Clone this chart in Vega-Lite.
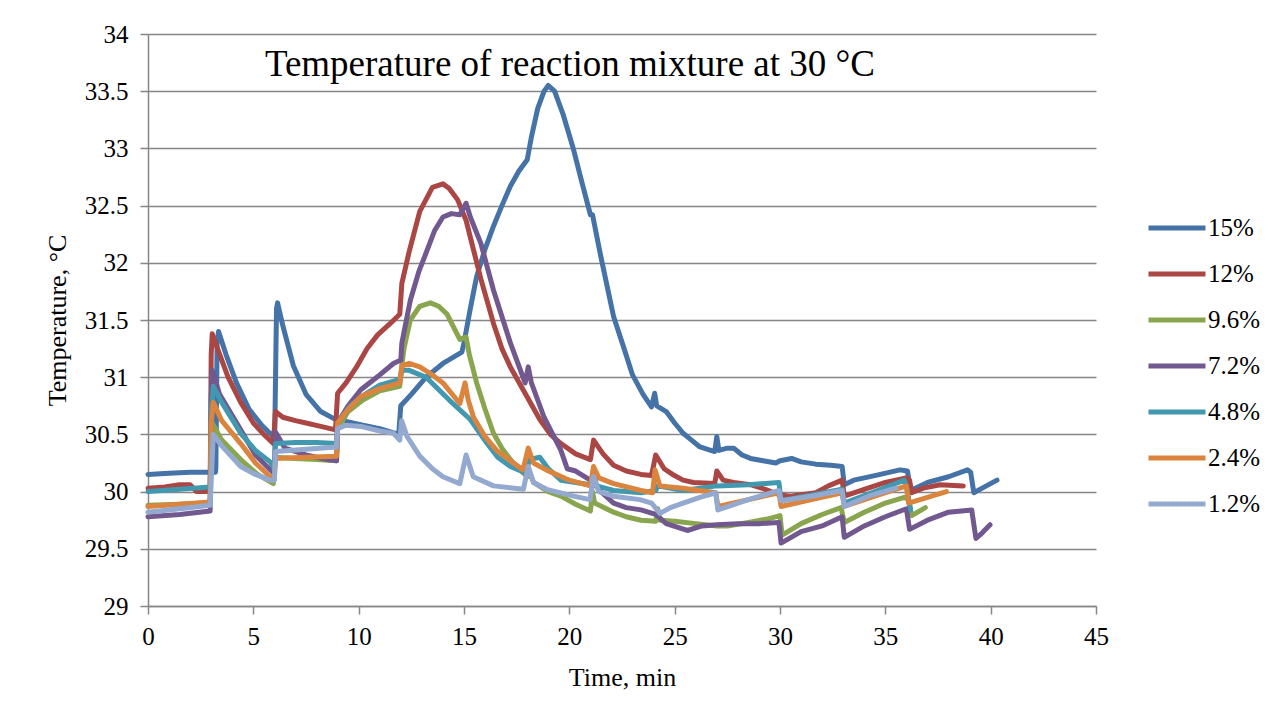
{
  "$schema": "https://vega.github.io/schema/vega-lite/v6.json",
  "width": 948,
  "height": 572,
  "autosize": {"type": "none"},
  "padding": {"left": 148, "top": 34, "right": 184, "bottom": 113},
  "background": "white",
  "config": {
    "view": {"stroke": null},
    "style": {"guide-label": {"font": "Liberation Serif", "fill": "black"}, "guide-title": {"font": "Liberation Serif", "fill": "black"}},
    "axis": {
      "labelFont": "Liberation Serif",
      "titleFont": "Liberation Serif",
      "labelFontSize": 25,
      "titleFontSize": 26,
      "titleFontWeight": "normal",
      "labelColor": "black",
      "titleColor": "black",
      "labelFlush": false,
      "labelOverlap": false,
      "domainColor": "#868686",
      "tickColor": "#868686",
      "gridColor": "#868686",
      "domainWidth": 1.5,
      "tickWidth": 1.5,
      "gridWidth": 1.5,
      "tickSize": 8
    },
    "legend": {
      "labelFont": "Liberation Serif",
      "labelFontSize": 25,
      "labelColor": "black"
    }
  },
  "layer": [
    {
      "data": {
        "values": [
          {"s":"15%","t":0,"T":30.15},{"s":"15%","t":1,"T":30.16},{"s":"15%","t":2,"T":30.17},{"s":"15%","t":3.2,"T":30.17},{"s":"15%","t":3.22,"T":30.2},{"s":"15%","t":3.28,"T":31.3},{"s":"15%","t":3.35,"T":31.4},{"s":"15%","t":3.7,"T":31.2},{"s":"15%","t":4.2,"T":30.95},{"s":"15%","t":4.8,"T":30.72},{"s":"15%","t":5.4,"T":30.58},{"s":"15%","t":5.95,"T":30.48},{"s":"15%","t":6.02,"T":30.55},{"s":"15%","t":6.1,"T":31.6},{"s":"15%","t":6.15,"T":31.65},{"s":"15%","t":6.4,"T":31.45},{"s":"15%","t":6.9,"T":31.1},{"s":"15%","t":7.5,"T":30.85},{"s":"15%","t":8.2,"T":30.7},{"s":"15%","t":8.8,"T":30.64},{"s":"15%","t":9.5,"T":30.61},{"s":"15%","t":10.2,"T":30.58},{"s":"15%","t":11,"T":30.55},{"s":"15%","t":11.9,"T":30.5},{"s":"15%","t":12,"T":30.75},{"s":"15%","t":12.5,"T":30.85},{"s":"15%","t":13.2,"T":31},{"s":"15%","t":14,"T":31.12},{"s":"15%","t":14.9,"T":31.22},{"s":"15%","t":15,"T":31.3},{"s":"15%","t":15.3,"T":31.6},{"s":"15%","t":15.6,"T":31.88},{"s":"15%","t":16,"T":32.12},{"s":"15%","t":16.4,"T":32.32},{"s":"15%","t":16.8,"T":32.5},{"s":"15%","t":17.2,"T":32.67},{"s":"15%","t":17.6,"T":32.8},{"s":"15%","t":18,"T":32.9},{"s":"15%","t":18.2,"T":33.1},{"s":"15%","t":18.5,"T":33.35},{"s":"15%","t":18.8,"T":33.5},{"s":"15%","t":19,"T":33.55},{"s":"15%","t":19.3,"T":33.5},{"s":"15%","t":19.7,"T":33.3},{"s":"15%","t":20.2,"T":32.99},{"s":"15%","t":20.6,"T":32.7},{"s":"15%","t":21,"T":32.42},{"s":"15%","t":21.1,"T":32.42},{"s":"15%","t":21.5,"T":32.05},{"s":"15%","t":22.1,"T":31.53},{"s":"15%","t":22.6,"T":31.25},{"s":"15%","t":23,"T":31.02},{"s":"15%","t":23.5,"T":30.85},{"s":"15%","t":23.9,"T":30.74},{"s":"15%","t":24.05,"T":30.86},{"s":"15%","t":24.15,"T":30.75},{"s":"15%","t":24.6,"T":30.7},{"s":"15%","t":25,"T":30.6},{"s":"15%","t":25.4,"T":30.51},{"s":"15%","t":25.8,"T":30.45},{"s":"15%","t":26.2,"T":30.39},{"s":"15%","t":26.9,"T":30.35},{"s":"15%","t":27,"T":30.48},{"s":"15%","t":27.1,"T":30.36},{"s":"15%","t":27.5,"T":30.38},{"s":"15%","t":27.8,"T":30.38},{"s":"15%","t":28.2,"T":30.32},{"s":"15%","t":28.6,"T":30.29},{"s":"15%","t":29.2,"T":30.27},{"s":"15%","t":29.8,"T":30.25},{"s":"15%","t":30,"T":30.27},{"s":"15%","t":30.55,"T":30.29},{"s":"15%","t":31,"T":30.26},{"s":"15%","t":31.7,"T":30.24},{"s":"15%","t":32.4,"T":30.23},{"s":"15%","t":32.95,"T":30.22},{"s":"15%","t":33.05,"T":30.06},{"s":"15%","t":33.5,"T":30.1},{"s":"15%","t":34.5,"T":30.14},{"s":"15%","t":35.7,"T":30.19},{"s":"15%","t":36.05,"T":30.18},{"s":"15%","t":36.2,"T":30.01},{"s":"15%","t":37,"T":30.08},{"s":"15%","t":38,"T":30.13},{"s":"15%","t":38.9,"T":30.19},{"s":"15%","t":39.05,"T":30.17},{"s":"15%","t":39.2,"T":29.99},{"s":"15%","t":39.6,"T":30.03},{"s":"15%","t":40.3,"T":30.1},

          {"s":"12%","t":0,"T":30.03},{"s":"12%","t":0.8,"T":30.04},{"s":"12%","t":1.5,"T":30.06},{"s":"12%","t":2,"T":30.06},{"s":"12%","t":2.3,"T":30},{"s":"12%","t":2.8,"T":30},{"s":"12%","t":2.95,"T":30.02},{"s":"12%","t":3,"T":31.2},{"s":"12%","t":3.05,"T":31.38},{"s":"12%","t":3.3,"T":31.25},{"s":"12%","t":3.8,"T":31},{"s":"12%","t":4.4,"T":30.78},{"s":"12%","t":5,"T":30.6},{"s":"12%","t":5.5,"T":30.5},{"s":"12%","t":5.95,"T":30.42},{"s":"12%","t":6.05,"T":30.7},{"s":"12%","t":6.4,"T":30.65},{"s":"12%","t":7,"T":30.62},{"s":"12%","t":7.5,"T":30.6},{"s":"12%","t":8.2,"T":30.57},{"s":"12%","t":8.9,"T":30.54},{"s":"12%","t":9,"T":30.86},{"s":"12%","t":9.4,"T":30.95},{"s":"12%","t":9.9,"T":31.09},{"s":"12%","t":10.4,"T":31.25},{"s":"12%","t":10.9,"T":31.37},{"s":"12%","t":11.5,"T":31.47},{"s":"12%","t":11.95,"T":31.55},{"s":"12%","t":12.05,"T":31.82},{"s":"12%","t":12.4,"T":32.1},{"s":"12%","t":12.9,"T":32.45},{"s":"12%","t":13.5,"T":32.66},{"s":"12%","t":14,"T":32.69},{"s":"12%","t":14.3,"T":32.65},{"s":"12%","t":14.7,"T":32.55},{"s":"12%","t":15.1,"T":32.37},{"s":"12%","t":15.4,"T":32.15},{"s":"12%","t":15.8,"T":31.86},{"s":"12%","t":16.4,"T":31.47},{"s":"12%","t":16.8,"T":31.25},{"s":"12%","t":17.2,"T":31.09},{"s":"12%","t":17.9,"T":30.86},{"s":"12%","t":18.6,"T":30.63},{"s":"12%","t":19.1,"T":30.5},{"s":"12%","t":19.6,"T":30.42},{"s":"12%","t":20.3,"T":30.33},{"s":"12%","t":21,"T":30.28},{"s":"12%","t":21.15,"T":30.45},{"s":"12%","t":21.6,"T":30.33},{"s":"12%","t":22.1,"T":30.23},{"s":"12%","t":22.7,"T":30.18},{"s":"12%","t":23.4,"T":30.15},{"s":"12%","t":23.9,"T":30.14},{"s":"12%","t":24.1,"T":30.32},{"s":"12%","t":24.5,"T":30.2},{"s":"12%","t":24.9,"T":30.15},{"s":"12%","t":25.4,"T":30.1},{"s":"12%","t":25.9,"T":30.08},{"s":"12%","t":26.9,"T":30.07},{"s":"12%","t":27,"T":30.18},{"s":"12%","t":27.3,"T":30.1},{"s":"12%","t":27.8,"T":30.08},{"s":"12%","t":28.6,"T":30.06},{"s":"12%","t":29.3,"T":30.02},{"s":"12%","t":30,"T":29.97},{"s":"12%","t":30.5,"T":29.96},{"s":"12%","t":31.7,"T":29.99},{"s":"12%","t":32.3,"T":30.05},{"s":"12%","t":32.95,"T":30.1},{"s":"12%","t":33.05,"T":29.96},{"s":"12%","t":34,"T":30.02},{"s":"12%","t":35,"T":30.08},{"s":"12%","t":36,"T":30.12},{"s":"12%","t":36.15,"T":30.1},{"s":"12%","t":36.25,"T":29.99},{"s":"12%","t":36.8,"T":30.03},{"s":"12%","t":37.6,"T":30.06},{"s":"12%","t":38.7,"T":30.05},

          {"s":"9.6%","t":0,"T":29.88},{"s":"9.6%","t":1.5,"T":29.89},{"s":"9.6%","t":2.95,"T":29.9},{"s":"9.6%","t":3,"T":30.5},{"s":"9.6%","t":3.05,"T":30.6},{"s":"9.6%","t":3.5,"T":30.45},{"s":"9.6%","t":4.4,"T":30.28},{"s":"9.6%","t":5.2,"T":30.15},{"s":"9.6%","t":5.95,"T":30.07},{"s":"9.6%","t":6.05,"T":30.3},{"s":"9.6%","t":7,"T":30.29},{"s":"9.6%","t":8,"T":30.28},{"s":"9.6%","t":8.95,"T":30.27},{"s":"9.6%","t":9,"T":30.55},{"s":"9.6%","t":9.5,"T":30.7},{"s":"9.6%","t":10.2,"T":30.8},{"s":"9.6%","t":11,"T":30.88},{"s":"9.6%","t":11.95,"T":30.92},{"s":"9.6%","t":12.05,"T":31.1},{"s":"9.6%","t":12.15,"T":31.25},{"s":"9.6%","t":12.45,"T":31.5},{"s":"9.6%","t":12.9,"T":31.62},{"s":"9.6%","t":13.4,"T":31.65},{"s":"9.6%","t":13.8,"T":31.62},{"s":"9.6%","t":14.2,"T":31.55},{"s":"9.6%","t":14.8,"T":31.33},{"s":"9.6%","t":15.1,"T":31.35},{"s":"9.6%","t":15.25,"T":31.2},{"s":"9.6%","t":15.6,"T":30.95},{"s":"9.6%","t":16,"T":30.72},{"s":"9.6%","t":16.4,"T":30.51},{"s":"9.6%","t":16.8,"T":30.38},{"s":"9.6%","t":17.2,"T":30.28},{"s":"9.6%","t":17.6,"T":30.2},{"s":"9.6%","t":18,"T":30.13},{"s":"9.6%","t":18.05,"T":30.2},{"s":"9.6%","t":18.3,"T":30.08},{"s":"9.6%","t":19,"T":30},{"s":"9.6%","t":19.6,"T":29.96},{"s":"9.6%","t":20.3,"T":29.89},{"s":"9.6%","t":21,"T":29.83},{"s":"9.6%","t":21.1,"T":30},{"s":"9.6%","t":21.2,"T":29.9},{"s":"9.6%","t":22.1,"T":29.82},{"s":"9.6%","t":22.7,"T":29.78},{"s":"9.6%","t":23.4,"T":29.75},{"s":"9.6%","t":24.1,"T":29.74},{"s":"9.6%","t":24.2,"T":29.85},{"s":"9.6%","t":24.3,"T":29.75},{"s":"9.6%","t":25,"T":29.74},{"s":"9.6%","t":26,"T":29.72},{"s":"9.6%","t":27,"T":29.7},{"s":"9.6%","t":27.5,"T":29.7},{"s":"9.6%","t":28.5,"T":29.73},{"s":"9.6%","t":29.4,"T":29.76},{"s":"9.6%","t":30,"T":29.79},{"s":"9.6%","t":30.1,"T":29.62},{"s":"9.6%","t":31,"T":29.72},{"s":"9.6%","t":32,"T":29.8},{"s":"9.6%","t":32.9,"T":29.86},{"s":"9.6%","t":33.05,"T":29.73},{"s":"9.6%","t":34,"T":29.82},{"s":"9.6%","t":35,"T":29.9},{"s":"9.6%","t":35.9,"T":29.95},{"s":"9.6%","t":36.1,"T":29.93},{"s":"9.6%","t":36.25,"T":29.79},{"s":"9.6%","t":36.9,"T":29.86},

          {"s":"7.2%","t":0,"T":29.78},{"s":"7.2%","t":1.5,"T":29.8},{"s":"7.2%","t":2.95,"T":29.83},{"s":"7.2%","t":3,"T":30.8},{"s":"7.2%","t":3.05,"T":31.06},{"s":"7.2%","t":3.4,"T":30.85},{"s":"7.2%","t":4.4,"T":30.54},{"s":"7.2%","t":5.1,"T":30.32},{"s":"7.2%","t":5.8,"T":30.19},{"s":"7.2%","t":6,"T":30.16},{"s":"7.2%","t":6.05,"T":30.52},{"s":"7.2%","t":6.5,"T":30.38},{"s":"7.2%","t":7.5,"T":30.32},{"s":"7.2%","t":8.5,"T":30.28},{"s":"7.2%","t":8.95,"T":30.27},{"s":"7.2%","t":9,"T":30.6},{"s":"7.2%","t":9.5,"T":30.75},{"s":"7.2%","t":10.1,"T":30.89},{"s":"7.2%","t":11,"T":31.02},{"s":"7.2%","t":11.65,"T":31.12},{"s":"7.2%","t":12,"T":31.15},{"s":"7.2%","t":12.05,"T":31.3},{"s":"7.2%","t":12.45,"T":31.67},{"s":"7.2%","t":12.85,"T":31.92},{"s":"7.2%","t":13.25,"T":32.11},{"s":"7.2%","t":13.6,"T":32.28},{"s":"7.2%","t":14,"T":32.4},{"s":"7.2%","t":14.4,"T":32.43},{"s":"7.2%","t":14.8,"T":32.42},{"s":"7.2%","t":15.1,"T":32.52},{"s":"7.2%","t":15.3,"T":32.4},{"s":"7.2%","t":15.8,"T":32.17},{"s":"7.2%","t":16.4,"T":31.76},{"s":"7.2%","t":17.2,"T":31.3},{"s":"7.2%","t":17.9,"T":30.95},{"s":"7.2%","t":18.05,"T":31.09},{"s":"7.2%","t":18.2,"T":30.95},{"s":"7.2%","t":18.8,"T":30.65},{"s":"7.2%","t":19.6,"T":30.36},{"s":"7.2%","t":19.9,"T":30.2},{"s":"7.2%","t":20.3,"T":30.18},{"s":"7.2%","t":21,"T":30.1},{"s":"7.2%","t":21.5,"T":30},{"s":"7.2%","t":22.1,"T":29.9},{"s":"7.2%","t":22.7,"T":29.86},{"s":"7.2%","t":23.4,"T":29.84},{"s":"7.2%","t":24.1,"T":29.8},{"s":"7.2%","t":24.6,"T":29.72},{"s":"7.2%","t":25.6,"T":29.66},{"s":"7.2%","t":26.3,"T":29.7},{"s":"7.2%","t":27,"T":29.71},{"s":"7.2%","t":28,"T":29.72},{"s":"7.2%","t":29,"T":29.72},{"s":"7.2%","t":29.95,"T":29.73},{"s":"7.2%","t":30.05,"T":29.55},{"s":"7.2%","t":31,"T":29.65},{"s":"7.2%","t":32,"T":29.7},{"s":"7.2%","t":32.95,"T":29.78},{"s":"7.2%","t":33.05,"T":29.6},{"s":"7.2%","t":34,"T":29.7},{"s":"7.2%","t":35,"T":29.78},{"s":"7.2%","t":36,"T":29.85},{"s":"7.2%","t":36.15,"T":29.67},{"s":"7.2%","t":37,"T":29.75},{"s":"7.2%","t":38,"T":29.82},{"s":"7.2%","t":39.1,"T":29.84},{"s":"7.2%","t":39.3,"T":29.59},{"s":"7.2%","t":39.6,"T":29.64},{"s":"7.2%","t":39.97,"T":29.71},

          {"s":"4.8%","t":0,"T":30},{"s":"4.8%","t":1.5,"T":30.02},{"s":"4.8%","t":2.95,"T":30.04},{"s":"4.8%","t":3,"T":30.7},{"s":"4.8%","t":3.1,"T":30.92},{"s":"4.8%","t":3.5,"T":30.78},{"s":"4.8%","t":4.4,"T":30.51},{"s":"4.8%","t":5.1,"T":30.36},{"s":"4.8%","t":5.8,"T":30.26},{"s":"4.8%","t":6,"T":30.2},{"s":"4.8%","t":6.05,"T":30.42},{"s":"4.8%","t":7,"T":30.43},{"s":"4.8%","t":8,"T":30.43},{"s":"4.8%","t":8.95,"T":30.42},{"s":"4.8%","t":9,"T":30.6},{"s":"4.8%","t":9.6,"T":30.75},{"s":"4.8%","t":10.3,"T":30.85},{"s":"4.8%","t":11,"T":30.93},{"s":"4.8%","t":11.95,"T":30.98},{"s":"4.8%","t":12.05,"T":31.06},{"s":"4.8%","t":12.4,"T":31.06},{"s":"4.8%","t":13.2,"T":31},{"s":"4.8%","t":14.3,"T":30.8},{"s":"4.8%","t":15.3,"T":30.63},{"s":"4.8%","t":16.1,"T":30.42},{"s":"4.8%","t":16.6,"T":30.3},{"s":"4.8%","t":17.2,"T":30.22},{"s":"4.8%","t":17.95,"T":30.16},{"s":"4.8%","t":18.1,"T":30.28},{"s":"4.8%","t":18.6,"T":30.3},{"s":"4.8%","t":19,"T":30.2},{"s":"4.8%","t":19.6,"T":30.1},{"s":"4.8%","t":21,"T":30.06},{"s":"4.8%","t":21.15,"T":30.15},{"s":"4.8%","t":21.3,"T":30.05},{"s":"4.8%","t":22.1,"T":30.01},{"s":"4.8%","t":23.4,"T":29.99},{"s":"4.8%","t":24.1,"T":30.01},{"s":"4.8%","t":24.2,"T":30.05},{"s":"4.8%","t":25.4,"T":30.01},{"s":"4.8%","t":27,"T":30.05},{"s":"4.8%","t":28.5,"T":30.06},{"s":"4.8%","t":29.95,"T":30.08},{"s":"4.8%","t":30.05,"T":29.92},{"s":"4.8%","t":31.5,"T":29.97},{"s":"4.8%","t":32.95,"T":30.02},{"s":"4.8%","t":33.05,"T":29.9},{"s":"4.8%","t":34.5,"T":30},{"s":"4.8%","t":35.9,"T":30.1},{"s":"4.8%","t":36,"T":30.05},{"s":"4.8%","t":36.2,"T":29.84},

          {"s":"2.4%","t":0,"T":29.87},{"s":"2.4%","t":1.5,"T":29.89},{"s":"2.4%","t":2.95,"T":29.91},{"s":"2.4%","t":3,"T":30.6},{"s":"2.4%","t":3.1,"T":30.78},{"s":"2.4%","t":3.5,"T":30.62},{"s":"2.4%","t":4.4,"T":30.42},{"s":"2.4%","t":5.1,"T":30.25},{"s":"2.4%","t":5.8,"T":30.13},{"s":"2.4%","t":6,"T":30.12},{"s":"2.4%","t":6.05,"T":30.29},{"s":"2.4%","t":7.5,"T":30.3},{"s":"2.4%","t":8.95,"T":30.31},{"s":"2.4%","t":9,"T":30.6},{"s":"2.4%","t":9.5,"T":30.72},{"s":"2.4%","t":10.1,"T":30.83},{"s":"2.4%","t":11,"T":30.9},{"s":"2.4%","t":11.95,"T":30.95},{"s":"2.4%","t":12.05,"T":31.1},{"s":"2.4%","t":12.4,"T":31.12},{"s":"2.4%","t":12.9,"T":31.09},{"s":"2.4%","t":13.5,"T":31.02},{"s":"2.4%","t":14,"T":30.95},{"s":"2.4%","t":14.8,"T":30.77},{"s":"2.4%","t":15.05,"T":30.95},{"s":"2.4%","t":15.2,"T":30.8},{"s":"2.4%","t":15.45,"T":30.65},{"s":"2.4%","t":16,"T":30.48},{"s":"2.4%","t":16.55,"T":30.36},{"s":"2.4%","t":17.2,"T":30.27},{"s":"2.4%","t":17.8,"T":30.19},{"s":"2.4%","t":18.05,"T":30.38},{"s":"2.4%","t":18.3,"T":30.25},{"s":"2.4%","t":18.9,"T":30.19},{"s":"2.4%","t":20,"T":30.1},{"s":"2.4%","t":21,"T":30.05},{"s":"2.4%","t":21.15,"T":30.22},{"s":"2.4%","t":21.4,"T":30.12},{"s":"2.4%","t":22.1,"T":30.07},{"s":"2.4%","t":23.4,"T":30.01},{"s":"2.4%","t":23.95,"T":29.99},{"s":"2.4%","t":24.07,"T":30.19},{"s":"2.4%","t":24.3,"T":30.05},{"s":"2.4%","t":25.4,"T":30.03},{"s":"2.4%","t":26.95,"T":29.99},{"s":"2.4%","t":27.05,"T":29.87},{"s":"2.4%","t":28.5,"T":29.93},{"s":"2.4%","t":29.95,"T":29.99},{"s":"2.4%","t":30.05,"T":29.87},{"s":"2.4%","t":31.5,"T":29.93},{"s":"2.4%","t":32.95,"T":29.99},{"s":"2.4%","t":33.05,"T":29.87},{"s":"2.4%","t":34.5,"T":29.96},{"s":"2.4%","t":36,"T":30.05},{"s":"2.4%","t":36.1,"T":29.9},{"s":"2.4%","t":37.9,"T":30},

          {"s":"1.2%","t":0,"T":29.82},{"s":"1.2%","t":1.5,"T":29.85},{"s":"1.2%","t":2.95,"T":29.88},{"s":"1.2%","t":3.05,"T":30.3},{"s":"1.2%","t":3.1,"T":30.5},{"s":"1.2%","t":3.5,"T":30.4},{"s":"1.2%","t":4.4,"T":30.22},{"s":"1.2%","t":5.1,"T":30.15},{"s":"1.2%","t":5.8,"T":30.1},{"s":"1.2%","t":6,"T":30.1},{"s":"1.2%","t":6.05,"T":30.35},{"s":"1.2%","t":7.5,"T":30.37},{"s":"1.2%","t":8.95,"T":30.39},{"s":"1.2%","t":9,"T":30.55},{"s":"1.2%","t":9.4,"T":30.58},{"s":"1.2%","t":10.1,"T":30.57},{"s":"1.2%","t":11,"T":30.53},{"s":"1.2%","t":11.65,"T":30.51},{"s":"1.2%","t":11.95,"T":30.45},{"s":"1.2%","t":12.04,"T":30.62},{"s":"1.2%","t":12.3,"T":30.48},{"s":"1.2%","t":12.9,"T":30.31},{"s":"1.2%","t":13.5,"T":30.2},{"s":"1.2%","t":14,"T":30.13},{"s":"1.2%","t":14.8,"T":30.07},{"s":"1.2%","t":15.1,"T":30.32},{"s":"1.2%","t":15.44,"T":30.13},{"s":"1.2%","t":16.4,"T":30.05},{"s":"1.2%","t":17.82,"T":30.02},{"s":"1.2%","t":18.05,"T":30.22},{"s":"1.2%","t":18.3,"T":30.08},{"s":"1.2%","t":18.92,"T":30.02},{"s":"1.2%","t":20.2,"T":29.96},{"s":"1.2%","t":20.98,"T":29.93},{"s":"1.2%","t":21.14,"T":30.13},{"s":"1.2%","t":21.4,"T":30},{"s":"1.2%","t":22.1,"T":29.96},{"s":"1.2%","t":23.35,"T":29.93},{"s":"1.2%","t":23.9,"T":29.9},{"s":"1.2%","t":24.3,"T":29.81},{"s":"1.2%","t":24.8,"T":29.86},{"s":"1.2%","t":25.4,"T":29.9},{"s":"1.2%","t":26.2,"T":29.95},{"s":"1.2%","t":26.95,"T":29.99},{"s":"1.2%","t":27.05,"T":29.84},{"s":"1.2%","t":28.5,"T":29.93},{"s":"1.2%","t":29.95,"T":30.01},{"s":"1.2%","t":30.05,"T":29.92},{"s":"1.2%","t":31.5,"T":29.96},{"s":"1.2%","t":32.95,"T":30.01},{"s":"1.2%","t":33.05,"T":29.87},{"s":"1.2%","t":34.2,"T":29.96},{"s":"1.2%","t":35.5,"T":30.03}
        ]
      },
      "mark": {"type": "line", "strokeWidth": 5, "strokeCap": "round", "strokeJoin": "round"},
      "encoding": {
        "x": {
          "field": "t", "type": "quantitative",
          "scale": {"domain": [0, 45], "nice": false},
          "axis": {"values": [0,5,10,15,20,25,30,35,40,45], "grid": false, "title": "Time, min", "labelFont": "Liberation Serif", "titleFont": "Liberation Serif", "labelFlush": false, "labelPadding": 10, "titlePadding": 15}
        },
        "y": {
          "field": "T", "type": "quantitative",
          "scale": {"domain": [29, 34], "nice": false, "zero": false},
          "axis": {"values": [29,29.5,30,30.5,31,31.5,32,32.5,33,33.5,34], "format": "~g", "grid": true, "title": "Temperature, °C", "labelFont": "Liberation Serif", "titleFont": "Liberation Serif", "labelFlush": false, "labelPadding": 12, "titlePadding": 14}
        },
        "color": {
          "field": "s", "type": "nominal",
          "scale": {
            "domain": ["15%","12%","9.6%","7.2%","4.8%","2.4%","1.2%"],
            "range": ["#4572A7","#AA4643","#89A54E","#71588F","#4198AF","#DB843D","#93A9CF"]
          },
          "legend": {
            "title": null,
            "orient": "none",
            "legendX": 998,
            "legendY": 163,
            "symbolType": "stroke",
            "symbolSize": 3249,
            "symbolStrokeWidth": 5,
            "labelFont": "Liberation Serif",
            "labelOffset": 0,
            "rowPadding": 2
          }
        }
      }
    },
    {
      "data": {"values": [{"label": "Temperature of reaction mixture at 30 °C"}]},
      "mark": {"type": "text", "font": "Liberation Serif", "fontSize": 37, "color": "black", "align": "center", "baseline": "alphabetic"},
      "encoding": {
        "text": {"field": "label"},
        "x": {"datum": 20.03, "type": "quantitative"},
        "y": {"datum": 33.635, "type": "quantitative"}
      }
    }
  ]
}
